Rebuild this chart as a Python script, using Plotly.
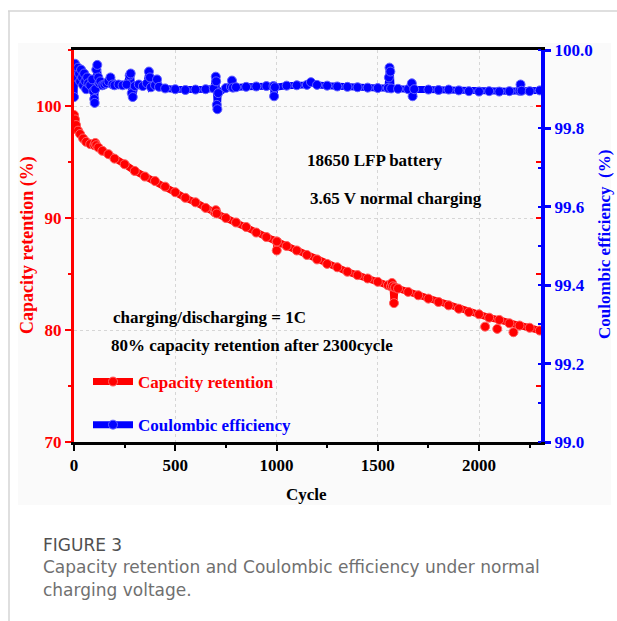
import plotly.graph_objects as go

# ---------------- data ----------------
cycles_cap = [0, 5, 10, 20, 30, 45, 60, 80, 100, 105, 110, 120, 140, 170, 200, 250, 300,
              350, 400, 450, 500, 550, 600, 650, 695, 700, 705, 750, 800, 850, 900, 950,
              1000, 1001, 1002, 1050, 1100, 1150, 1200, 1250, 1300, 1350, 1400, 1450, 1500,
              1550, 1565, 1570, 1575, 1580, 1585, 1600, 1650, 1700, 1750, 1800, 1850, 1900,
              1950, 2000, 2050, 2100, 2150, 2200, 2250, 2300]
capacity = [99.2, 98.8, 98.3, 97.8, 97.5, 97.1, 96.8, 96.6, 96.5, 96.7, 96.5, 96.3, 96.0,
            95.7, 95.3, 94.8, 94.2, 93.7, 93.3, 92.8, 92.3, 91.8, 91.4, 90.9, 90.5, 90.7,
            90.4, 90.0, 89.6, 89.2, 88.7, 88.3, 87.9, 87.1, 87.9, 87.5, 87.1, 86.7, 86.3,
            85.9, 85.6, 85.2, 84.9, 84.6, 84.3, 84.0, 83.9, 84.2, 83.9, 82.4, 83.8, 83.7,
            83.4, 83.1, 82.8, 82.5, 82.2, 81.9, 81.6, 81.4, 81.1, 80.9, 80.6, 80.4, 80.2,
            79.95]
# isolated low readings near the end of the test
cycles_cap_low = [2030, 2090, 2170]
capacity_low = [80.3, 80.1, 79.8]

cycles_ce = [0, 2, 5, 10, 15, 20, 25, 30, 35, 40, 45, 50, 55, 60, 65, 70, 80, 90, 95, 100,
             102, 105, 110, 115, 120, 125, 130, 140, 150, 160, 170, 180, 190, 200, 220, 240,
             260, 275, 280, 285, 290, 300, 320, 340, 360, 370, 375, 380, 400, 410, 420, 450,
             500, 550, 600, 650, 690, 700, 702, 705, 708, 712, 750, 775, 780, 785, 800, 850,
             900, 950, 985, 988, 992, 1050, 1100, 1150, 1170, 1200, 1250, 1300, 1350, 1400,
             1450, 1500, 1550, 1555, 1558, 1562, 1566, 1600, 1650, 1668, 1672, 1680, 1750,
             1800, 1850, 1900, 1950, 2000, 2050, 2100, 2150, 2200, 2205, 2210, 2250, 2300]
ce = [99.880, 99.960, 99.965, 99.950, 99.930, 99.955, 99.940, 99.920, 99.950, 99.930,
      99.910, 99.940, 99.920, 99.900, 99.930, 99.915, 99.910, 99.925, 99.895, 99.875,
      99.865, 99.900, 99.950, 99.962, 99.930, 99.915, 99.920, 99.910, 99.912, 99.915,
      99.920, 99.930, 99.912, 99.910, 99.912, 99.910, 99.912, 99.935, 99.940, 99.890,
      99.880, 99.908, 99.912, 99.908, 99.915, 99.945, 99.930, 99.905, 99.910, 99.925,
      99.906, 99.902, 99.900, 99.898, 99.899, 99.900, 99.902, 99.932, 99.920, 99.860,
      99.849, 99.890, 99.903, 99.906, 99.922, 99.904, 99.905, 99.906, 99.907, 99.908,
      99.908, 99.882, 99.905, 99.909, 99.910, 99.911, 99.918, 99.911, 99.909, 99.907,
      99.906, 99.905, 99.904, 99.903, 99.903, 99.930, 99.955, 99.945, 99.902, 99.901,
      99.900, 99.915, 99.882, 99.900, 99.899, 99.898, 99.899, 99.897, 99.895, 99.894,
      99.895, 99.894, 99.895, 99.896, 99.912, 99.896, 99.895, 99.897]

x_ticks = [0, 500, 1000, 1500, 2000]
left_ticks = [70, 80, 90, 100]
right_ticks = [99.0, 99.2, 99.4, 99.6, 99.8, 100.0]
right_tick_text = ["99.0", "99.2", "99.4", "99.6", "99.8", "100.0"]

# ---------------- layout geometry ----------------
W, H = 617, 621
L, R, T, B = 74, 541, 50, 442


def px(x):
    return (x - L) / (R - L)


def py(y):
    return (B - y) / (B - T)


SERIF = "Liberation Serif"
RED = "#ff0000"
BLUE = "#0000ff"

fig = go.Figure()
fig.add_trace(go.Scatter(
    x=cycles_cap, y=capacity, mode="lines+markers",
    name="<span style='color:#ff0000'>Capacity retention</span>",
    line=dict(color=RED, width=7),
    marker=dict(color=RED, size=9, line=dict(color="#ff6060", width=1)),
    yaxis="y", legendgroup="a"))
fig.add_trace(go.Scatter(
    x=cycles_cap_low, y=capacity_low, mode="markers", name="Capacity retention",
    marker=dict(color=RED, size=9, line=dict(color="#ff6060", width=1)),
    yaxis="y", legendgroup="a", showlegend=False))
fig.add_trace(go.Scatter(
    x=cycles_ce, y=ce, mode="lines+markers",
    name="<span style='color:#0000ff'>Coulombic efficiency</span>",
    line=dict(color=BLUE, width=7),
    marker=dict(color=BLUE, size=9, line=dict(color="#6060ff", width=1)),
    yaxis="y2", legendgroup="b"))

tickfont = dict(family=SERIF, size=17, weight="bold")

fig.update_layout(
    width=W, height=H, autosize=False,
    margin=dict(l=L, r=W - R, t=T, b=H - B, pad=0),
    paper_bgcolor="white", plot_bgcolor="#fafafa",
    showlegend=True,
    legend=dict(x=px(88), y=py(364), xanchor="left", yanchor="top",
                bgcolor="rgba(0,0,0,0)", borderwidth=0, tracegroupgap=18,
                itemwidth=40,
                traceorder="grouped", font=dict(family=SERIF, size=17, weight="bold")),
    xaxis=dict(range=[0, 2306], tickvals=x_ticks, showline=True, linecolor="black",
               linewidth=2.5, mirror=True, ticks="outside", ticklen=6, tickwidth=2,
               tickcolor="black", tickfont=dict(tickfont, color="black"),
               ticklabelstandoff=0,
               minor=dict(ticks="outside", ticklen=3, tickwidth=1.5, dtick=250,
                          tickcolor="black", showgrid=False),
               showgrid=True, gridcolor="#d6d6d6", gridwidth=1, griddash="dot",
               zeroline=False),
    yaxis=dict(range=[70, 105], tickvals=left_ticks, showline=True, linecolor=RED,
               linewidth=3, ticks="outside", ticklen=6, tickwidth=2, tickcolor=RED,
               tickfont=dict(tickfont, color=RED),
               minor=dict(ticks="outside", ticklen=3, tickwidth=1.5, dtick=5,
                          tickcolor=RED, showgrid=False),
               showgrid=True, gridcolor="#d6d6d6", gridwidth=1, griddash="dot",
               zeroline=False),
    yaxis2=dict(range=[99.0, 100.0], tickvals=right_ticks, ticktext=right_tick_text,
                overlaying="y", side="right", showline=True, linecolor=BLUE,
                linewidth=4, ticks="outside", ticklen=6, tickwidth=3, tickcolor=BLUE,
                tickfont=dict(tickfont, color=BLUE),
                minor=dict(ticks="inside", ticklen=3, tickwidth=2, dtick=0.1,
                           tickcolor=BLUE, showgrid=False),
                showgrid=False, zeroline=False),
    yaxis3=dict(range=[70, 105], overlaying="y", side="right", showline=False,
                ticks="inside", ticklen=5, tickwidth=2, tickcolor=RED, dtick=5,
                tick0=70, showticklabels=False, showgrid=False, zeroline=False),
)

# invisible trace to activate the mirrored red tick axis
fig.add_trace(go.Scatter(x=[None], y=[None], yaxis="y3", showlegend=False,
                         hoverinfo="skip"))

shapes = [
    dict(type="rect", xref="paper", yref="paper", x0=px(18), x1=px(611),
         y0=py(505), y1=py(43), fillcolor="#fafafa", line=dict(width=0), layer="below"),
    dict(type="line", xref="paper", yref="paper", x0=px(8), x1=px(617),
         y0=py(11), y1=py(11), line=dict(color="#d4d4d4", width=1.5)),
    dict(type="line", xref="paper", yref="paper", x0=px(9), x1=px(9),
         y0=py(11), y1=py(621), line=dict(color="#d4d4d4", width=1.5)),
]
fig.update_layout(shapes=shapes)

ann = []


def add_text(text, x, y, size=17, color="black", xanchor="left", angle=0,
             family=SERIF, weight="bold"):
    ann.append(dict(text=text, x=px(x), y=py(y), xref="paper", yref="paper",
                    xanchor=xanchor, yanchor="middle", showarrow=False,
                    textangle=angle,
                    font=dict(family=family, size=size, color=color, weight=weight)))


add_text("18650 LFP battery", 305, 160)
add_text("3.65 V normal charging", 308, 199)
add_text("charging/discharging = 1C", 111, 317)
add_text("80% capacity retention after 2300cycle", 109, 345)
add_text("Cycle", 306, 494, xanchor="center")
add_text("Capacity retention (%)", 27, 245, xanchor="center", angle=-90, color=RED,
         size=18)
add_text("Coulombic efficiency\u00a0\u00a0(%)", 604, 245, xanchor="center", angle=-90,
         color=BLUE, size=17)
add_text("FIGURE 3", 41, 545, size=17, color="#505050", family="DejaVu Sans",
         weight="normal")
add_text("Capacity retention and Coulombic efficiency under normal", 41, 567, size=17,
         color="#707070", family="DejaVu Sans", weight="normal")
add_text("charging voltage.", 41, 590, size=17, color="#707070", family="DejaVu Sans",
         weight="normal")
fig.update_layout(annotations=ann)

fig.write_html("out.html")
